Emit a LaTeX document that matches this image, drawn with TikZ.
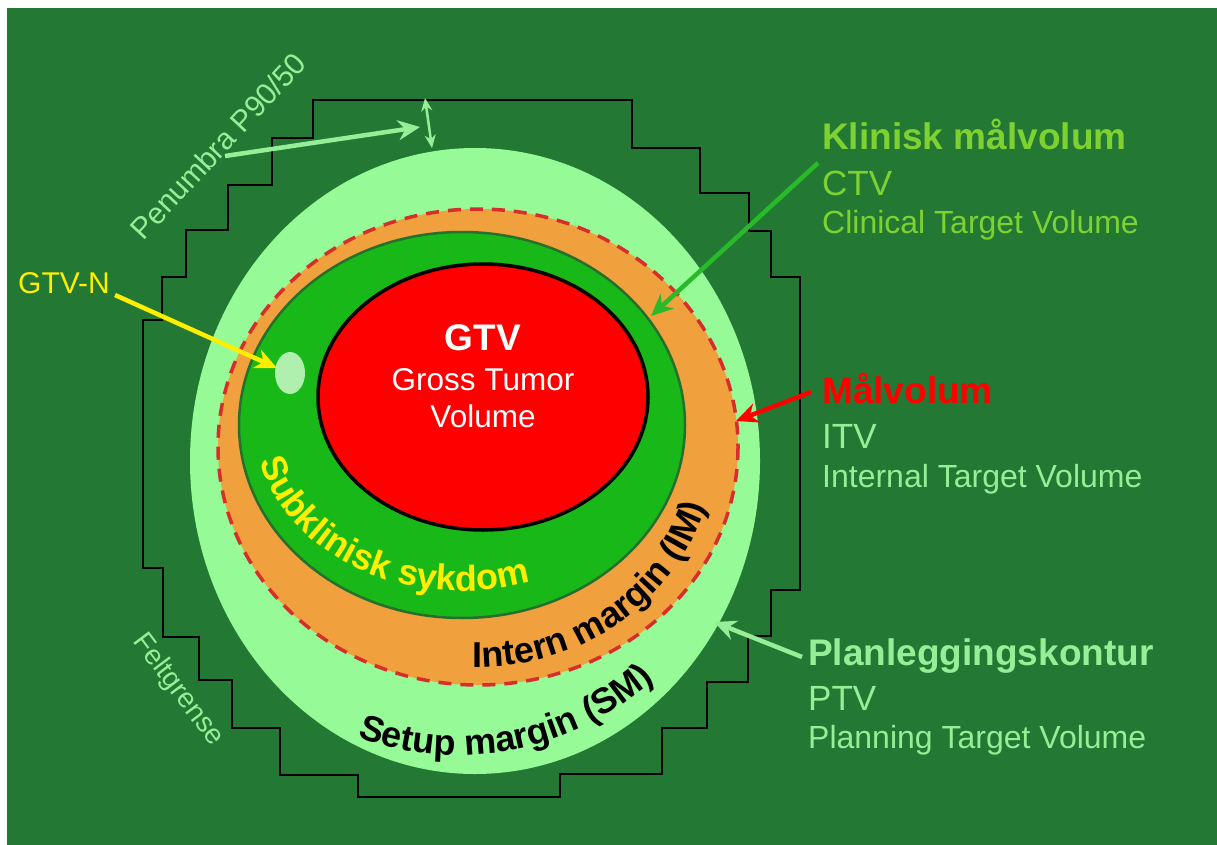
\documentclass[tikz,border=0pt]{standalone}
\usepackage{fontspec}
\setmainfont{Liberation Sans}
\usepackage{tikz}
\usetikzlibrary{arrows.meta}
\usetikzlibrary{decorations.text}

\definecolor{bggreen}{RGB}{35,121,52}
\definecolor{ptvpale}{RGB}{150,250,150}
\definecolor{ctvgreen}{RGB}{24,184,24}
\definecolor{ctvedge}{RGB}{36,112,44}
\definecolor{itvorange}{RGB}{240,160,60}
\definecolor{dashred}{RGB}{215,45,45}
\definecolor{limetxt}{RGB}{125,210,50}
\definecolor{ctvarrow}{RGB}{40,186,40}
\definecolor{paletxt}{RGB}{150,238,150}
\definecolor{nodeyellow}{RGB}{255,238,0}
\definecolor{gtvnpale}{RGB}{175,240,175}

\newcommand\curvebf{\fontsize{36pt}{38pt}\selectfont\bfseries}

\begin{document}
\begin{tikzpicture}[x=1pt, y=-1pt,
	txt/.style={inner sep=0pt, anchor=base west},
	head/.style={txt, font=\fontsize{37pt}{40pt}\selectfont\bfseries},
	abbr/.style={txt, font=\fontsize{35pt}{40pt}\selectfont},
	desc/.style={txt, font=\fontsize{32pt}{34pt}\selectfont},
	arr/.style={line width=4.5pt, -{Stealth[length=22pt, width=20pt]}}
	]
	\useasboundingbox (0,0) rectangle (1217,845);
	\fill[white] (0,0) rectangle (1217,845);
	\fill[bggreen] (7,8) rectangle (1217,845);
	
	% feltgrense
	\draw[black, line width=2.2pt] (313,100) -- (632,100) -- (632,148) -- (700,148) -- (700,193)
	-- (749,193) -- (749,231) -- (771,231) -- (771,277) -- (800,277) -- (800,590)
	-- (771,590) -- (771,636) -- (748,636) -- (748,682) -- (707,682) -- (707,728)
	-- (662,728) -- (662,774) -- (560,774) -- (560,797) -- (358,797) -- (358,775)
	-- (280,775) -- (280,728) -- (232,728) -- (232,680) -- (199,680) -- (199,637)
	-- (163,637) -- (163,568) -- (143,568) -- (143,320) -- (162,320) -- (162,277)
	-- (186,277) -- (186,230) -- (228,230) -- (228,185) -- (272,185) -- (272,138)
	-- (313,138) -- cycle;
	
	% volumes
	\fill[ptvpale] (475,461) ellipse [x radius=285, y radius=313];
	\fill[itvorange] (478,447) ellipse [x radius=260, y radius=238];
	\draw[dashred, line width=3.5pt, dash pattern=on 13pt off 9pt] (478,447) ellipse [x radius=260, y radius=238];
	\filldraw[fill=ctvgreen, draw=ctvedge, line width=2.5pt] (462,425) ellipse [x radius=223, y radius=193];
	\filldraw[fill=red, draw=black, line width=3.5pt] (483,397) ellipse [x radius=165, y radius=133];
	\fill[gtvnpale] (290,373) ellipse [x radius=15, y radius=21];
	
	\node[anchor=base, inner sep=0pt, white, font=\fontsize{37pt}{40pt}\selectfont\bfseries] (gtv) at (483,350) {GTV};
	\node[anchor=base, inner sep=0pt, white, font=\fontsize{31.5pt}{34pt}\selectfont] (gtvgross) at (483,390) {Gross Tumor};
	\node[anchor=base, inner sep=0pt, white, font=\fontsize{31.5pt}{34pt}\selectfont] (gtvvol) at (483,427) {Volume};
	
	% text along the bands
	\path[decorate, decoration={text along path, text align=center, text color=nodeyellow,
		text={|\curvebf|Subklinisk sykdom}}]
	(462,425) ++(180:207 and 166) arc[start angle=180, end angle=60, x radius=207, y radius=166];
	\path[decorate, decoration={text along path, text align=center, text color=black,
		text={|\curvebf|Intern margin (IM)}}]
	(478,447) ++(103:236 and 220) arc[start angle=103, end angle=3, x radius=236, y radius=220];
	\path[decorate, decoration={text along path, text align=center, text color=black,
		text={|\curvebf|Setup margin (SM)}}]
	(458,463) ++(129:292) arc[start angle=129, end angle=29, radius=292];
	
	% right labels
	\node[head, limetxt] (ctvhead) at (822,150) {Klinisk målvolum};
	\node[abbr, limetxt] (ctvabbr) at (822,195) {CTV};
	\node[desc, limetxt] (ctvdesc) at (822,233) {Clinical Target Volume};
	\node[head, red] (itvhead) at (822,403) {Målvolum};
	\node[abbr, paletxt] (itvabbr) at (822,448) {ITV};
	\node[desc, paletxt] (itvdesc) at (822,487) {Internal Target Volume};
	\node[head, paletxt] (ptvhead) at (808,665) {Planleggingskontur};
	\node[abbr, paletxt] (ptvabbr) at (808,710) {PTV};
	\node[desc, paletxt] (ptvdesc) at (808,748) {Planning Target Volume};
	
	% left labels
	\node[txt, nodeyellow, font=\fontsize{30pt}{34pt}\selectfont] (gtvn) at (18,293) {GTV-N};
	\node[inner sep=0pt, paletxt, rotate=47, font=\fontsize{30pt}{32pt}\selectfont] (penumbra) at (218,146) {Penumbra P90/50};
	\node[inner sep=0pt, paletxt, rotate=-53, font=\fontsize{28pt}{32pt}\selectfont] (felt) at (178,690) {Feltgrense};
	
	\coordinate (ctvfrom) at (818,163);
	\coordinate (ctvtip) at (651,316);
	\coordinate (itvfrom) at (811,392);
	\coordinate (itvtip) at (736,421);
	\coordinate (ptvfrom) at (802,657);
	\coordinate (ptvtip) at (714,622);
	\coordinate (gtvnfrom) at (115,295);
	\coordinate (gtvntip) at (277,368);
	\coordinate (penfrom) at (225,156);
	\coordinate (pentip) at (420,127);
	\coordinate (fieldedge) at (425,98);
	\coordinate (ptvtop) at (432,148);
	
	\draw[arr, ctvarrow] (ctvfrom) -- (ctvtip);
	\draw[arr, red] (itvfrom) -- (itvtip);
	\draw[arr, paletxt] (ptvfrom) -- (ptvtip);
	\draw[arr, nodeyellow] (gtvnfrom) -- (gtvntip);
	\draw[arr, paletxt] (penfrom) -- (pentip);
	\draw[paletxt, line width=2.5pt, {Stealth[length=13pt, width=11pt]}-{Stealth[length=13pt, width=11pt]}] (fieldedge) -- (ptvtop);
\end{tikzpicture}
\end{document}
